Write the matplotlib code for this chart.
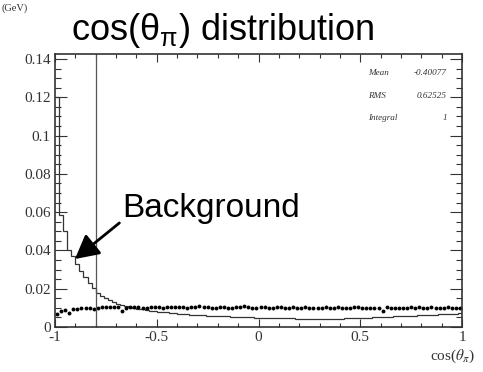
import numpy as np
import matplotlib
matplotlib.use("Agg")
import matplotlib.pyplot as plt

plt.rcParams["mathtext.fontset"] = "custom"
plt.rcParams["mathtext.rm"] = "Liberation Sans"
plt.rcParams["mathtext.it"] = "Liberation Sans:italic"

# Normalised cos(theta_pi) histogram (background, solid steps)
bkg_counts = [
    0.1200, 0.0585, 0.0500, 0.0402, 0.0370, 0.0330, 0.0295, 0.0262, 0.0232, 0.0205,
    0.0180, 0.0163, 0.0150, 0.0140, 0.0130, 0.0122, 0.0116, 0.0110, 0.0105, 0.0100,
    0.0096, 0.0092, 0.0089, 0.0086, 0.0083, 0.0080, 0.0078, 0.0076, 0.0074, 0.0072,
    0.0070, 0.0068, 0.0067, 0.0065, 0.0064, 0.0062, 0.0061, 0.0060, 0.0059, 0.0058,
    0.0057, 0.0056, 0.0055, 0.0054, 0.0053, 0.0052, 0.0051, 0.0051, 0.0050, 0.0049,
    0.0048, 0.0048, 0.0047, 0.0047, 0.0046, 0.0046, 0.0045, 0.0045, 0.0045, 0.0044,
    0.0044, 0.0044, 0.0044, 0.0043, 0.0043, 0.0043, 0.0043, 0.0043, 0.0044, 0.0044,
    0.0044, 0.0045, 0.0045, 0.0046, 0.0046, 0.0047, 0.0048, 0.0049, 0.0050, 0.0051,
    0.0052, 0.0053, 0.0054, 0.0055, 0.0056, 0.0057, 0.0058, 0.0059, 0.0060, 0.0061,
    0.0062, 0.0063, 0.0064, 0.0065, 0.0066, 0.0067, 0.0068, 0.0069, 0.0070, 0.0072,
]

# Signal distribution (points)
sig_counts = [
    0.0068, 0.0086, 0.0090, 0.0074, 0.0092, 0.0095, 0.0097, 0.0098, 0.0097, 0.0096,
    0.0098, 0.0104, 0.0105, 0.0106, 0.0105, 0.0104, 0.0084, 0.0100, 0.0103, 0.0105,
    0.0102, 0.0101, 0.0100, 0.0104, 0.0106, 0.0102, 0.0100, 0.0103, 0.0105, 0.0107,
    0.0104, 0.0102, 0.0100, 0.0103, 0.0106, 0.0108, 0.0104, 0.0102, 0.0100, 0.0101,
    0.0103, 0.0106, 0.0101, 0.0099, 0.0102, 0.0104, 0.0110, 0.0102, 0.0100, 0.0101,
    0.0103, 0.0105, 0.0100, 0.0098, 0.0104, 0.0106, 0.0101, 0.0097, 0.0103, 0.0099,
    0.0101, 0.0102, 0.0100, 0.0101, 0.0099, 0.0100, 0.0102, 0.0101, 0.0100, 0.0103,
    0.0101, 0.0099, 0.0100, 0.0102, 0.0104, 0.0098, 0.0101, 0.0100, 0.0100, 0.0101,
    0.0082, 0.0104, 0.0100, 0.0099, 0.0100, 0.0101, 0.0099, 0.0102, 0.0100, 0.0103,
    0.0098, 0.0100, 0.0104, 0.0101, 0.0100, 0.0099, 0.0102, 0.0100, 0.0101, 0.0100,
]

cut_value = -0.8
x_range = (-1.0, 1.0)
y_range = (0.0, 0.1426)
x_major = [-1, -0.5, 0, 0.5, 1]
x_major_labels = ["-1", "-0.5", "0", "0.5", "1"]
y_major = [0, 0.02, 0.04, 0.06, 0.08, 0.1, 0.12, 0.14]
y_major_labels = ["0", "0.02", "0.04", "0.06", "0.08", "0.1", "0.12", "0.14"]
stats = [("Mean", "-0.40077"), ("RMS", "0.62525"), ("Integral", "1")]

W, H = 483, 372
fig = plt.figure(figsize=(W / 100, H / 100), dpi=100)
ax = fig.add_axes([55 / W, 45 / H, 407 / W, 273 / H])

edges = np.linspace(x_range[0], x_range[1], len(bkg_counts) + 1)
centers = 0.5 * (edges[:-1] + edges[1:])

ink = "#333333"
ax.stairs(bkg_counts, edges, color=ink, lw=0.9, baseline=None)
ax.plot(centers, sig_counts, "o", ms=2.8, color="black", mew=0)
ax.axvline(cut_value, color="#555555", lw=0.9)

ax.set_xlim(*x_range)
ax.set_ylim(*y_range)

serif = "Liberation Serif"
ax.set_xticks(x_major)
ax.set_xticklabels(x_major_labels, fontfamily=serif, fontsize=11, color=ink)
ax.set_yticks(y_major)
ax.set_yticklabels(y_major_labels, fontfamily=serif, fontsize=11, color=ink)
ax.set_xticks(np.arange(-1, 1.001, 0.1), minor=True)
ax.set_yticks(np.arange(0, 0.1426, 0.005), minor=True)

ax.tick_params(which="both", direction="in", top=True, right=True, color=ink, width=0.8)
ax.tick_params(axis="x", which="major", length=5.8, pad=3)
ax.tick_params(axis="x", which="minor", length=2.9)
ax.tick_params(axis="y", which="major", length=8.6, pad=3)
ax.tick_params(axis="y", which="minor", length=4.3)
for s in ax.spines.values():
    s.set_color(ink)
    s.set_linewidth(1.2)

# Statistics block in the upper right corner
for i, (k, v) in enumerate(stats):
    yy = 1 - (19 + i * 22.5) / 273
    ax.text((368 - 55) / 407, yy, k, transform=ax.transAxes, fontfamily=serif,
            style="italic", fontsize=6.6, ha="left", va="center", color=ink)
    ax.text((447 - 55) / 407, yy, v, transform=ax.transAxes, fontfamily=serif,
            style="italic", fontsize=6.6, ha="right", va="center", color=ink)

# Title and axis label
fig.text(71 / W, 1 - 31 / H, r"cos($\mathrm{\theta}_{\mathrm{\pi}}$) distribution",
         fontfamily="Liberation Sans", fontsize=26, ha="left", va="center",
         math_fontfamily="custom")
fig.text(475 / W, 1 - 356 / H, r"cos($\theta_\pi$)", fontfamily=serif, fontsize=11,
         ha="right", va="center", color=ink, math_fontfamily="stix")
fig.text(2 / W, 1 - 8 / H, "(GeV)", fontfamily=serif, fontsize=7.5, ha="left",
         va="center", color=ink)

# Annotation pointing at the background histogram
ax.annotate("Background", xy=(-0.902, 0.0355), xytext=(-0.67, 0.062),
            fontfamily="Liberation Sans", fontsize=24, ha="left", va="center",
            arrowprops=dict(arrowstyle="-|>,head_length=0.6,head_width=0.32",
                            color="black", lw=2, shrinkA=0, shrinkB=0,
                            relpos=(0.0, 0.1)))

fig.savefig("out.png", dpi=100)
